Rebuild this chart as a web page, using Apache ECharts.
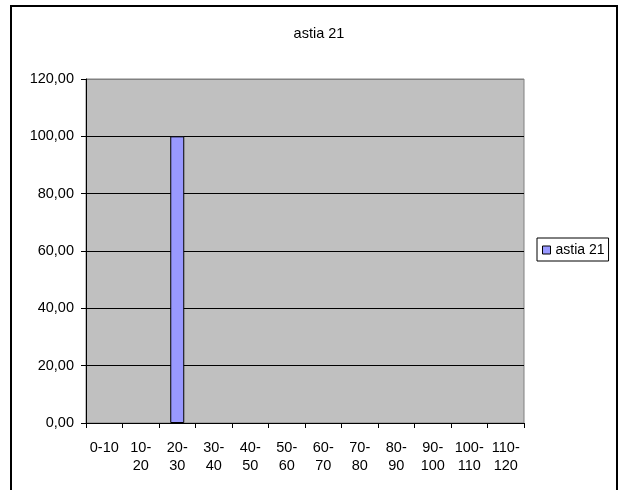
<!DOCTYPE html>
<html><head><meta charset="utf-8">
<script src="https://cdn.jsdelivr.net/npm/echarts@6/dist/echarts.min.js"></script>
<style>html,body{margin:0;padding:0;background:#fff}#c{width:623px;height:490px}</style>
</head><body><div id="c"></div>
<script>
const categories = ['0-10','10-\n20','20-\n30','30-\n40','40-\n50','50-\n60','60-\n70','70-\n80','80-\n90','90-\n100','100-\n110','110-\n120'];
const values = [0,0,100,0,0,0,0,0,0,0,0,0];
const seriesName = 'astia 21';
const yTicks = {min:0, max:120, interval:20};

const chart = echarts.init(document.getElementById('c'), null, {renderer:'canvas'});
const font = 'Liberation Sans, Arial, sans-serif';
chart.setOption({
  animation:false,
  backgroundColor:'#fff',
  textStyle:{fontFamily:font},
  graphic:[{type:'rect', shape:{x:11,y:6,width:606,height:500}, style:{fill:null, stroke:'#000', lineWidth:2}, silent:true, z:-1}],
  title:{text:seriesName, left:314, textAlign:'center', top:21, textStyle:{fontFamily:font, fontSize:14.5, fontWeight:'normal', color:'#000'}},
  legend:{data:[seriesName], left:537, top:238, orient:'vertical', borderColor:'#000', borderWidth:1, padding:[5,4,4,5],
    itemWidth:8, itemHeight:8, itemGap:2, icon:'rect',
    textStyle:{fontFamily:font, fontSize:14, color:'#000'},
    itemStyle:{borderColor:'#000', borderWidth:1}},
  grid:{left:86, top:79, width:438, height:344, show:true, backgroundColor:'#C0C0C0', borderColor:'#808080', borderWidth:1, containLabel:false},
  xAxis:{type:'category', data:categories, boundaryGap:true,
    axisLine:{lineStyle:{color:'#000', width:1}},
    axisTick:{show:true, length:5, lineStyle:{color:'#000'}},
    axisLabel:{interval:0, color:'#000', fontFamily:font, fontSize:14.5, lineHeight:18, margin:16}},
  yAxis:{type:'value', min:yTicks.min, max:yTicks.max, interval:yTicks.interval,
    axisLine:{show:true, lineStyle:{color:'#000', width:1}},
    axisTick:{show:true, length:5, lineStyle:{color:'#000'}},
    axisLabel:{color:'#000', fontFamily:font, fontSize:14.5, margin:12, formatter:v=>v.toFixed(2).replace('.',',')},
    splitLine:{show:true, lineStyle:{color:['#000','#000','#000','#000','#000','#000','#808080'], width:1}}},
  series:[{name:seriesName, type:'bar', barWidth:14,
    data:values.map(v => v === 0 ? {value:v, itemStyle:{borderWidth:0, opacity:0}} : v),
    itemStyle:{color:'#9999FF', borderColor:'#000', borderWidth:1}}]
});
</script></body></html>
